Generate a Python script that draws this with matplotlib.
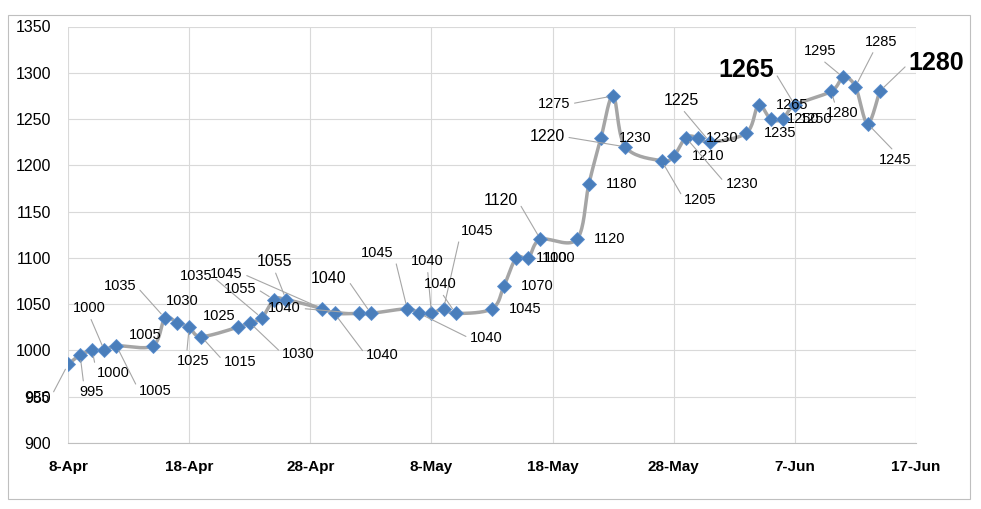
import numpy as np
import pandas as pd
import matplotlib
matplotlib.use("Agg")
import matplotlib.pyplot as plt
import matplotlib.dates as mdates
from matplotlib.patches import Rectangle

# ---- data ----
dates = [
    "2019-04-08", "2019-04-09", "2019-04-10", "2019-04-11", "2019-04-12",
    "2019-04-15", "2019-04-16", "2019-04-17", "2019-04-18", "2019-04-19",
    "2019-04-22", "2019-04-23", "2019-04-24", "2019-04-25", "2019-04-26",
    "2019-04-29", "2019-04-30", "2019-05-02", "2019-05-03",
    "2019-05-06", "2019-05-07", "2019-05-08", "2019-05-09", "2019-05-10",
    "2019-05-13", "2019-05-14", "2019-05-15", "2019-05-16", "2019-05-17",
    "2019-05-20", "2019-05-21", "2019-05-22", "2019-05-23", "2019-05-24",
    "2019-05-27", "2019-05-28", "2019-05-29", "2019-05-30", "2019-05-31",
    "2019-06-03", "2019-06-04", "2019-06-05", "2019-06-06", "2019-06-07",
    "2019-06-10", "2019-06-11", "2019-06-12", "2019-06-13", "2019-06-14",
]
prices = [
    985, 995, 1000, 1000, 1005,
    1005, 1035, 1030, 1025, 1015,
    1025, 1030, 1035, 1055, 1055,
    1045, 1040, 1040, 1040,
    1045, 1040, 1040, 1045, 1040,
    1045, 1070, 1100, 1100, 1120,
    1120, 1180, 1230, 1275, 1220,
    1205, 1210, 1230, 1230, 1225,
    1235, 1265, 1250, 1250, 1265,
    1280, 1295, 1285, 1245, 1280,
]
x_start, x_end = "2019-04-08", "2019-06-17"
y_ticks = [900, 950, 1000, 1050, 1100, 1150, 1200, 1250, 1300, 1350]

# label placement: (dx px, dy px down, leader relpos or None, size, weight)
R, L, T, B = (1, 0.5), (0, 0.5), (0.5, 1), (0.5, 0)
S, M = 10.5, 11.5
label_layout = [
    (-30, 34, R, S, "normal"), (11, 37, (0.2, 1), S, "normal"),
    (21, 23, L, S, "normal"), (-15, -42, B, S, "normal"),
    (39, 45, L, S, "normal"),
    (-8, -11, None, S, "normal"), (-45, -32, R, S, "normal"),
    (5, -22, None, S, "normal"), (4, 34, (0.3, 1), S, "normal"),
    (39, 25, L, S, "normal"),
    (-18, -11, None, S, "normal"), (49, 31, L, S, "normal"),
    (-66, -42, R, S, "normal"), (-34, -11, R, S, "normal"),
    (-12, -38, B, M, "normal"),
    (-96, -35, R, S, "normal"), (48, 42, L, S, "normal"),
    (-74, -5, R, S, "normal"), (-42, -35, R, M, "normal"),
    (-30, -56, R, S, "normal"), (67, 25, L, S, "normal"),
    (-4, -52, B, S, "normal"), (34, -78, L, S, "normal"),
    (-15, -29, B, S, "normal"),
    (33, 0, None, S, "normal"), (33, 0, None, S, "normal"),
    (35, 0, None, S, "normal"), (31, 0, None, S, "normal"),
    (-40, -39, R, M, "normal"),
    (33, 0, None, S, "normal"), (33, 0, None, S, "normal"),
    (34, 0, None, S, "normal"), (-59, 8, R, S, "normal"),
    (-78, -10, R, M, "normal"),
    (39, 39, L, S, "normal"), (34, 0, None, S, "normal"),
    (56, 46, L, S, "normal"), (24, 0, None, S, "normal"),
    (-29, -42, B, M, "normal"),
    (34, 0, None, S, "normal"), (34, 0, None, S, "normal"),
    (33, 0, None, S, "normal"), (33, 0, None, S, "normal"),
    (-49, -35, R, 18, "bold"),
    (11, 22, (0.3, 1), S, "normal"), (-23, -26, B, S, "normal"),
    (26, -45, (0.3, 0), S, "normal"), (28, 36, T, S, "normal"),
    (57, -28, L, 18, "bold"),
]

plt.rcParams['font.family'] = ['Liberation Sans', 'DejaVu Sans']

W, H = 981, 509
fig = plt.figure(figsize=(W / 100, H / 100), dpi=100)
ax = fig.add_axes([68 / W, (H - 443) / H, (916 - 68) / W, (443 - 26.5) / H])

xd = mdates.date2num(pd.to_datetime(dates))
x0 = mdates.date2num(pd.Timestamp(x_start))
x1 = mdates.date2num(pd.Timestamp(x_end))
yv = np.array(prices, dtype=float)

# smoothed line (Excel-like bezier through the points, in pixel-isotropic space)
sx, sy = 848 / (x1 - x0), 416.5 / 450
P = np.column_stack([(xd - x0) * sx, yv * sy])
n = len(P)
curve = [P[0]]
t = np.linspace(0, 1, 20)[1:]
for i in range(n - 1):
    p0 = P[max(i - 1, 0)]
    p1, p2 = P[i], P[i + 1]
    p3 = P[min(i + 2, n - 1)]
    c1 = p1 + (p2 - p0) / 6
    c2 = p2 - (p3 - p1) / 6
    seg = ((1 - t) ** 3)[:, None] * p1 + (3 * (1 - t) ** 2 * t)[:, None] * c1 \
        + (3 * (1 - t) * t ** 2)[:, None] * c2 + (t ** 3)[:, None] * p2
    curve.extend(seg)
curve = np.array(curve)
ax.plot(curve[:, 0] / sx + x0, curve[:, 1] / sy, color='#a5a5a5', lw=2.5,
        solid_capstyle='round', zorder=2)
ax.plot(xd, yv, linestyle='none', marker='D', markersize=7,
        markerfacecolor='#4a7ebb', markeredgecolor='#5b8fcf', markeredgewidth=0.6, zorder=3)

for xi, v, (dx, dy, rel, size, weight) in zip(xd, prices, label_layout):
    kw = {}
    if rel is not None:
        kw['arrowprops'] = dict(arrowstyle='-', color='#a6a6a6', lw=0.8,
                                relpos=rel, shrinkA=1, shrinkB=4)
    ax.annotate(str(v), xy=(xi, v), xytext=(dx, -dy), textcoords='offset pixels',
                ha='center', va='center', fontsize=size, fontweight=weight,
                color='black', zorder=4, **kw)

ax.set_xlim(x0, x1)
ax.set_ylim(900, 1350)
ax.set_yticks(y_ticks)
ax.set_xticks(np.arange(x0, x1 + 0.5, 10))
ax.xaxis.set_major_formatter(plt.FuncFormatter(
    lambda v, p: f"{mdates.num2date(v).day}-{mdates.num2date(v).strftime('%b')}"))
ax.grid(True, color='#d9d9d9', lw=0.8, zorder=0)
for s in ['top', 'right', 'left']:
    ax.spines[s].set_visible(False)
ax.spines['bottom'].set_color('#bfbfbf')
ax.tick_params(axis='both', length=0)
ax.tick_params(axis='y', labelsize=11.5, pad=12)
ax.tick_params(axis='x', labelsize=11, pad=12)
for lab in ax.get_xticklabels():
    lab.set_fontweight('bold')

fig.patches.append(Rectangle((8 / W, (H - 499) / H), 962 / W, 484 / H,
                             transform=fig.transFigure, fill=False,
                             edgecolor='#bfbfbf', lw=0.8))

fig.savefig("out.png", dpi=100, facecolor='white')
